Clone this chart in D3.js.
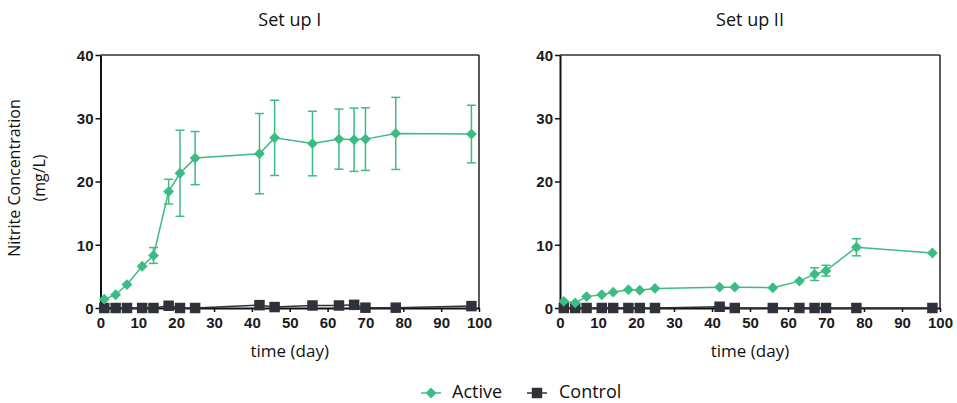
<!DOCTYPE html>
<html>
<head>
<meta charset="utf-8">
<script src="https://cdn.jsdelivr.net/npm/d3@7"></script>
<style>
  body { margin: 0; background: #fff; }
  svg { display: block; font-family: "Open Sans", sans-serif; }
  .tick text { font-weight: bold; font-size: 15px; fill: #1a1a1a; }
</style>
</head>
<body>
<svg id="chart" width="957" height="403"></svg>
<script>
// sampling days (same for both set ups)
const days = [1, 4, 7, 11, 14, 18, 21, 25, 42, 46, 56, 63, 67, 70, 78, 98];

// Set up I
const activeI = [1.4, 2.1, 3.7, 6.6, 8.3, 18.4, 21.3, 23.7, 24.4, 26.9, 26.0, 26.7, 26.6, 26.7, 27.6, 27.5];
const activeIErr = [0, 0, 0, 0, 1.25, 1.95, 6.8, 4.2, 6.35, 5.95, 5.1, 4.75, 5.0, 4.95, 5.7, 4.55];
const controlI = [0, 0, 0, 0, 0, 0.35, 0, 0, 0.45, 0.15, 0.4, 0.4, 0.5, 0.05, 0.05, 0.3];

// Set up II
const activeII = [1.05, 0.8, 1.8, 2.1, 2.5, 2.9, 2.8, 3.1, 3.3, 3.3, 3.2, 4.25, 5.35, 5.9, 9.6, 8.7];
const activeIIErr = [0, 0, 0, 0, 0, 0, 0, 0, 0, 0, 0, 0, 1.0, 0.85, 1.35, 0];
const controlII = [0, 0, 0, 0, 0, 0, 0, 0, 0.2, 0, 0, 0, 0, 0, 0, 0];

const xTicks = [0, 10, 20, 30, 40, 50, 60, 70, 80, 90, 100];
const yTicks = [0, 10, 20, 30, 40];
const titles = ["Set up I", "Set up II"];
const seriesNames = ["Active", "Control"];

const green = "#3dbb84";
const dark = "#2f3238";

const svg = d3.select("#chart");

const panels = [
  { title: titles[0], x0: 100.5, x1: 479, active: activeI, err: activeIErr, control: controlI },
  { title: titles[1], x0: 560, x1: 940, active: activeII, err: activeIIErr, control: controlII }
];

const yTop = 55, yBot = 308;

panels.forEach(p => {
  const x = d3.scaleLinear().domain([0, 100]).range([p.x0, p.x1]);
  const y = d3.scaleLinear().domain([0, 40]).range([yBot, yTop]);
  const g = svg.append("g");

  // frame top / right
  g.append("line").attr("x1", p.x0).attr("x2", p.x1).attr("y1", yTop).attr("y2", yTop)
    .attr("stroke", "#333").attr("stroke-width", 1.5);
  g.append("line").attr("x1", p.x1).attr("x2", p.x1).attr("y1", yTop).attr("y2", yBot)
    .attr("stroke", "#222").attr("stroke-width", 1.5);

  const xa = g.append("g").attr("transform", `translate(0,${yBot})`)
    .call(d3.axisBottom(x).tickValues(xTicks).tickSize(4).tickSizeOuter(0).tickPadding(5));
  const ya = g.append("g").attr("transform", `translate(${p.x0},0)`)
    .call(d3.axisLeft(y).tickValues(yTicks).tickSize(5).tickSizeOuter(0).tickPadding(2));
  [xa, ya].forEach(a => {
    a.select(".domain").attr("stroke", "#111").attr("stroke-width", 2);
    a.selectAll(".tick line").attr("stroke", "#111").attr("stroke-width", 1.5);
  });
  ya.selectAll(".tick text").attr("dy", "0.35em");

  // title
  g.append("text").attr("x", (p.x0 + p.x1) / 2).attr("y", 26).attr("text-anchor", "middle")
    .attr("font-size", 18).attr("fill", "#111").text(p.title);
  // x label
  g.append("text").attr("x", (p.x0 + p.x1) / 2).attr("y", 357).attr("text-anchor", "middle")
    .attr("font-size", 17).attr("fill", "#111").text("time (day)");

  const line = d3.line().x(d => x(d[0])).y(d => y(d[1]));

  // control series
  const ctrl = days.map((d, i) => [d, p.control[i]]);
  g.append("path").datum(ctrl).attr("d", line).attr("fill", "none")
    .attr("stroke", dark).attr("stroke-width", 1.5);
  g.selectAll(".sq").data(ctrl).enter().append("path")
    .attr("transform", d => `translate(${x(d[0])},${y(d[1])})`)
    .attr("d", d3.symbol(d3.symbolSquare, 110)).attr("fill", dark);

  // active series
  const act = days.map((d, i) => [d, p.active[i], p.err[i]]);
  const eb = act.filter(d => d[2] > 0);
  const ebg = g.append("g").attr("stroke", green).attr("stroke-width", 1.5);
  ebg.selectAll(".v").data(eb).enter().append("line")
    .attr("x1", d => x(d[0])).attr("x2", d => x(d[0]))
    .attr("y1", d => y(d[1] - d[2])).attr("y2", d => y(d[1] + d[2]));
  ebg.selectAll(".t").data(eb).enter().append("line")
    .attr("x1", d => x(d[0]) - 4.5).attr("x2", d => x(d[0]) + 4.5)
    .attr("y1", d => y(d[1] + d[2])).attr("y2", d => y(d[1] + d[2]));
  ebg.selectAll(".b").data(eb).enter().append("line")
    .attr("x1", d => x(d[0]) - 4.5).attr("x2", d => x(d[0]) + 4.5)
    .attr("y1", d => y(d[1] - d[2])).attr("y2", d => y(d[1] - d[2]));
  g.append("path").datum(act).attr("d", line).attr("fill", "none")
    .attr("stroke", green).attr("stroke-width", 1.5);
  g.selectAll(".dm").data(act).enter().append("path")
    .attr("transform", d => `translate(${x(d[0])},${y(d[1])})`)
    .attr("d", d3.symbol(d3.symbolDiamond2, 75)).attr("fill", green);
});

// y axis label
svg.append("text").attr("transform", "translate(20,178) rotate(-90)").attr("text-anchor", "middle")
  .attr("font-size", 16).attr("fill", "#111").text("Nitrite Concentration");
svg.append("text").attr("transform", "translate(45,178) rotate(-90)").attr("text-anchor", "middle")
  .attr("font-size", 16).attr("fill", "#111").text("(mg/L)");

// legend
const leg = [
  { name: seriesNames[0], cx: 431, tx: 452, color: green, sym: d3.symbolDiamond2, size: 75 },
  { name: seriesNames[1], cx: 537, tx: 559, color: dark, sym: d3.symbolSquare, size: 110 }
];
leg.forEach(l => {
  svg.append("line").attr("x1", l.cx - 10).attr("x2", l.cx + 10).attr("y1", 393).attr("y2", 393)
    .attr("stroke", l.color).attr("stroke-width", 1.5);
  svg.append("path").attr("transform", `translate(${l.cx},393)`)
    .attr("d", d3.symbol(l.sym, l.size)).attr("fill", l.color);
  svg.append("text").attr("x", l.tx).attr("y", 397.5).attr("font-size", 18).attr("fill", "#111").text(l.name);
});
</script>
</body>
</html>
